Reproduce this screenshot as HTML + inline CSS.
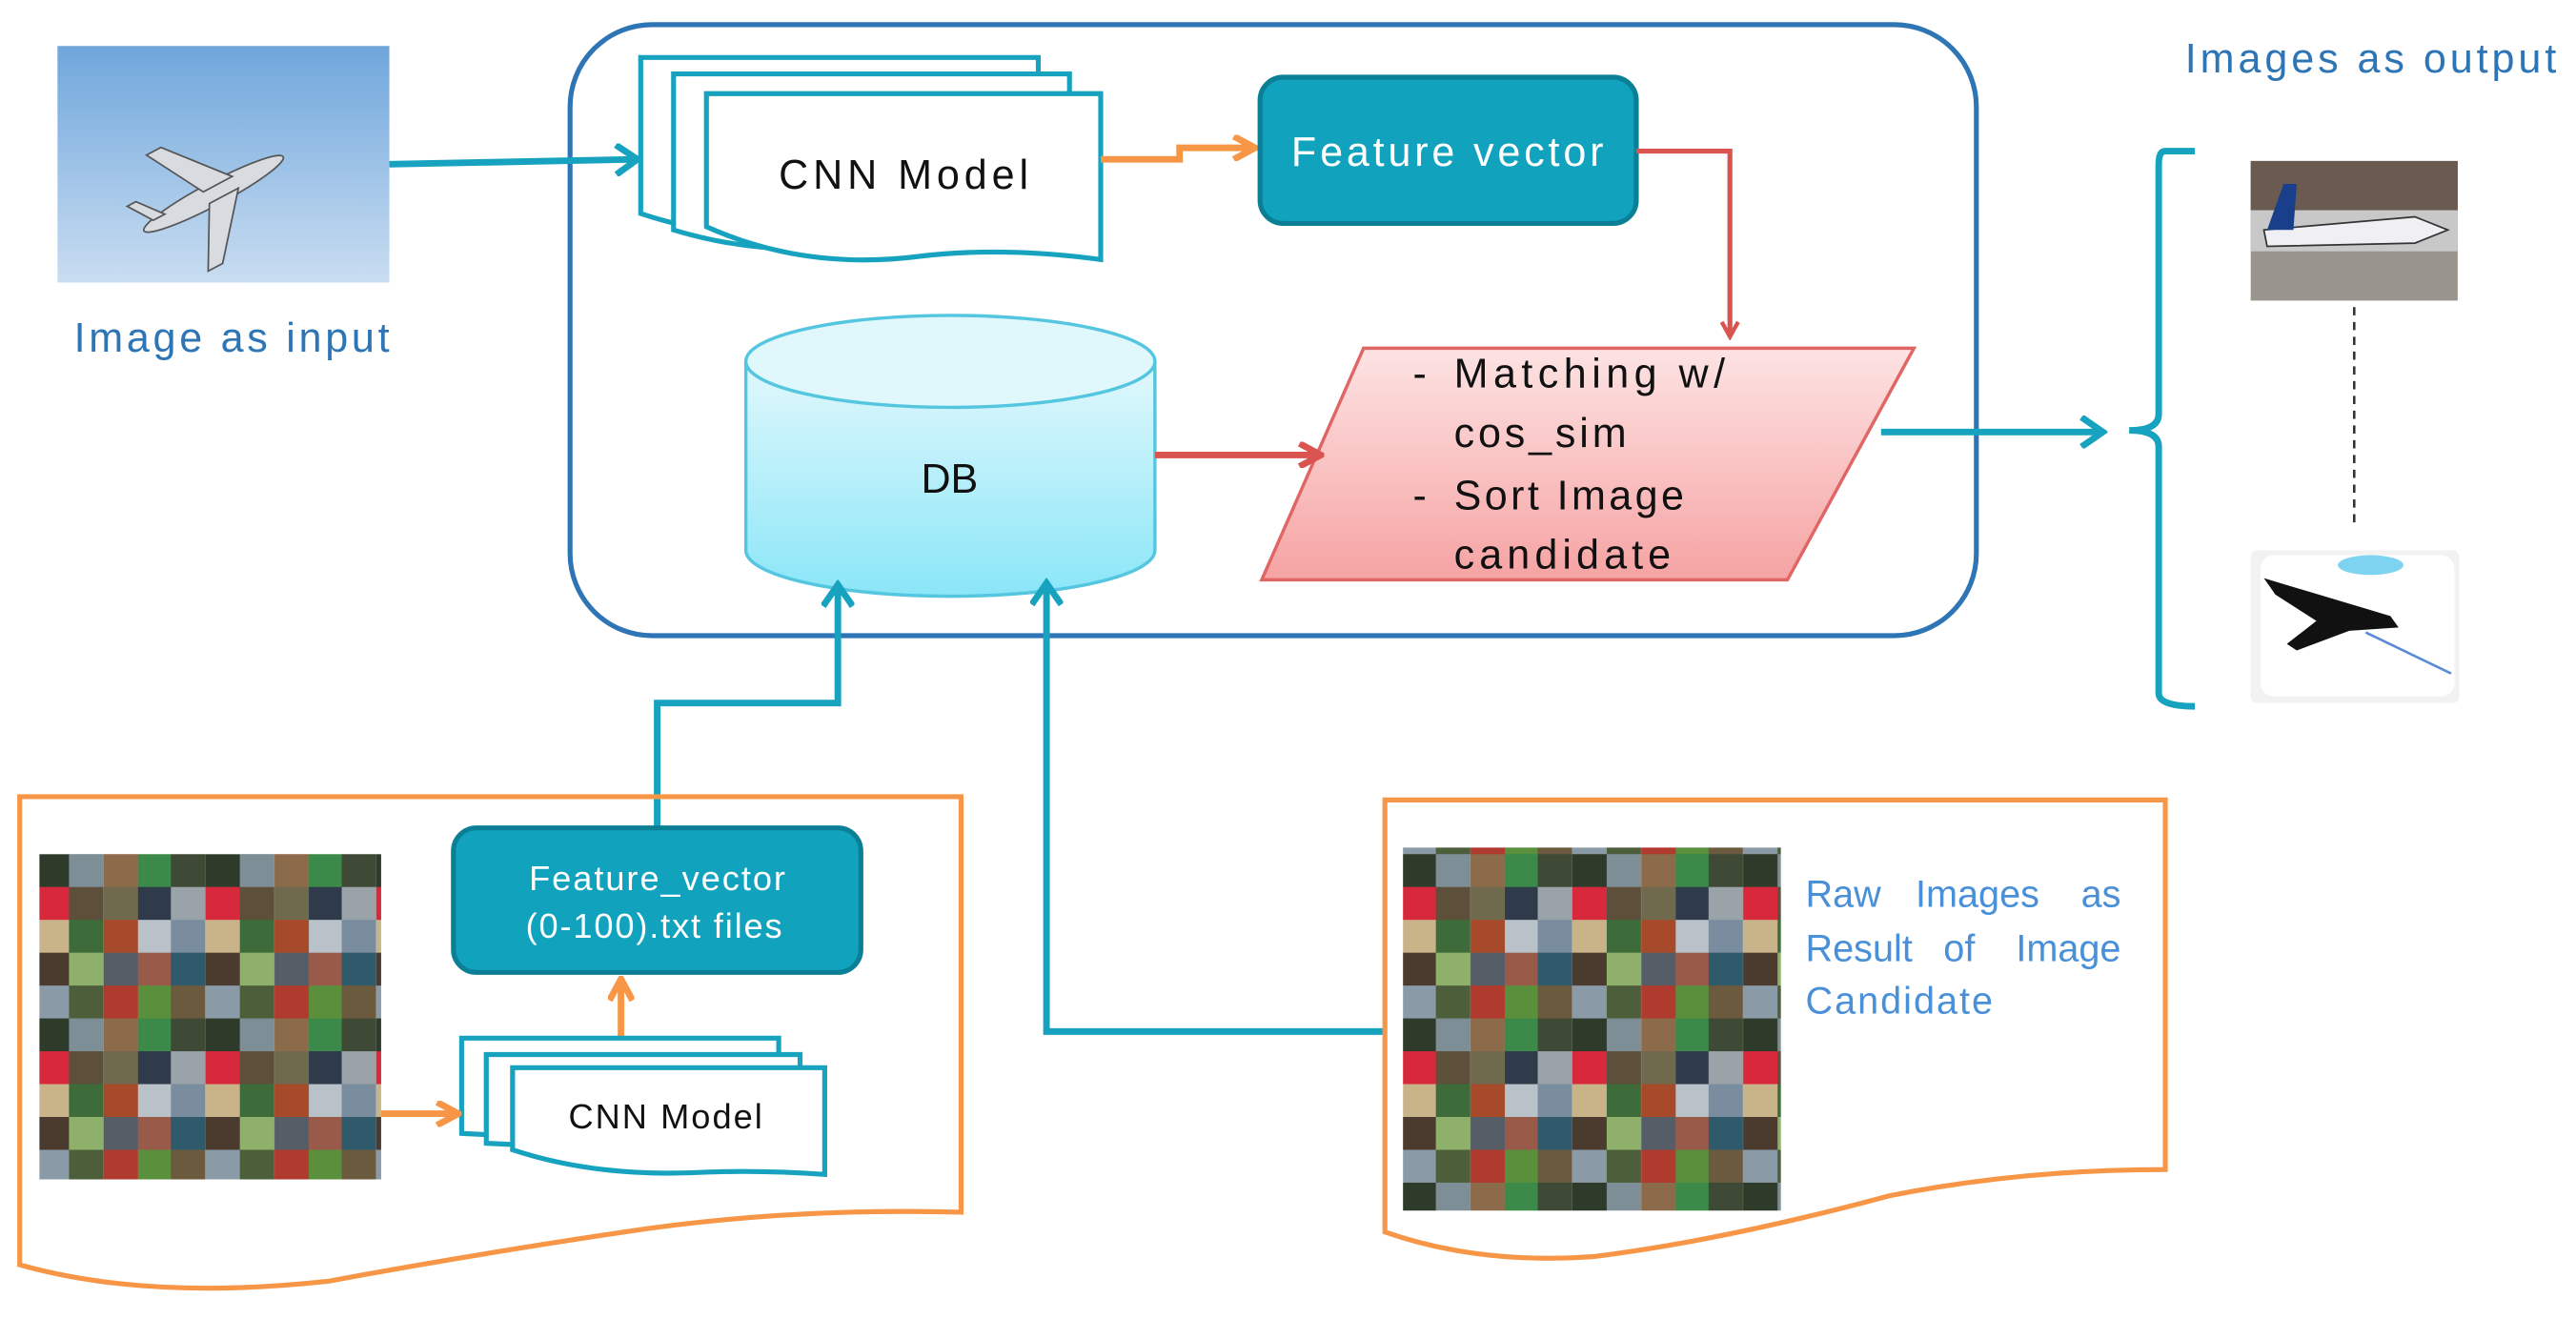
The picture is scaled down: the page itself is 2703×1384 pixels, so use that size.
<!DOCTYPE html>
<html><head><meta charset="utf-8"><style>
html,body{margin:0;padding:0;background:#fff;}
svg{display:block;}
text{font-family:"Liberation Sans",sans-serif;}
</style></head><body>
<svg width="2703" height="1384" viewBox="0 0 1568 803" preserveAspectRatio="none" xmlns="http://www.w3.org/2000/svg">
<defs>
<linearGradient id="sky" x1="0" y1="0" x2="0" y2="1"><stop offset="0" stop-color="#6fa6dc"/><stop offset="1" stop-color="#c9ddf1"/></linearGradient>
<linearGradient id="db" x1="0" y1="0" x2="0" y2="1"><stop offset="0" stop-color="#e2f8fc"/><stop offset="1" stop-color="#8ae6f8"/></linearGradient>
<linearGradient id="pk" x1="0" y1="0" x2="0" y2="1"><stop offset="0" stop-color="#fde3e3"/><stop offset="1" stop-color="#f6a3a3"/></linearGradient>
<pattern id="mos" patternUnits="userSpaceOnUse" width="104" height="100">
<rect x="0" y="0" width="21" height="20" fill="#6b5a3e"/><rect x="21" y="0" width="21" height="20" fill="#8a9aa6"/><rect x="42" y="0" width="21" height="20" fill="#4d5f3a"/><rect x="63" y="0" width="21" height="20" fill="#b03a2e"/><rect x="84" y="0" width="20" height="20" fill="#5a8f3c"/>
<rect x="0" y="20" width="21" height="20" fill="#3f4a36"/><rect x="21" y="20" width="21" height="20" fill="#2e3b2a"/><rect x="42" y="20" width="21" height="20" fill="#7e8e96"/><rect x="63" y="20" width="21" height="20" fill="#8b6b4a"/><rect x="84" y="20" width="20" height="20" fill="#3c8a4a"/>
<rect x="0" y="40" width="21" height="20" fill="#9aa3a8"/><rect x="21" y="40" width="21" height="20" fill="#d8283c"/><rect x="42" y="40" width="21" height="20" fill="#5d4f3a"/><rect x="63" y="40" width="21" height="20" fill="#6f6a4e"/><rect x="84" y="40" width="20" height="20" fill="#2f3a4a"/>
<rect x="0" y="60" width="21" height="20" fill="#7a8d9e"/><rect x="21" y="60" width="21" height="20" fill="#c9b48a"/><rect x="42" y="60" width="21" height="20" fill="#3e6b3a"/><rect x="63" y="60" width="21" height="20" fill="#a64a2a"/><rect x="84" y="60" width="20" height="20" fill="#b8c2c8"/>
<rect x="0" y="80" width="21" height="20" fill="#2f5a6b"/><rect x="21" y="80" width="21" height="20" fill="#4a3b2e"/><rect x="42" y="80" width="21" height="20" fill="#8fb06a"/><rect x="63" y="80" width="21" height="20" fill="#555e66"/><rect x="84" y="80" width="20" height="20" fill="#9a5a4a"/>
</pattern>
<marker id="aT" markerWidth="18" markerHeight="20" refX="15" refY="10" orient="auto" markerUnits="userSpaceOnUse"><path d="M2,1 L15,10 L2,19" fill="none" stroke="#17a3bf" stroke-width="4"/></marker>
<marker id="aO" markerWidth="16" markerHeight="16" refX="13" refY="8" orient="auto" markerUnits="userSpaceOnUse"><path d="M1,1 L14,8 L1,15" fill="none" stroke="#f79646" stroke-width="4"/></marker>
<marker id="aR" markerWidth="16" markerHeight="16" refX="13" refY="8" orient="auto" markerUnits="userSpaceOnUse"><path d="M1,1 L14,8 L1,15" fill="none" stroke="#d9534f" stroke-width="4"/></marker>
<marker id="aRs" markerWidth="12" markerHeight="12" refX="10" refY="6" orient="auto" markerUnits="userSpaceOnUse"><path d="M1,1 L10,6 L1,11" fill="none" stroke="#d9534f" stroke-width="2.5"/></marker>
</defs>

<rect x="35" y="28" width="202" height="144" fill="url(#sky)"/>
<g transform="translate(130,118) rotate(-28)" fill="#d8dbe0" stroke="#555" stroke-width="1">
<ellipse cx="0" cy="0" rx="48" ry="7"/>
<path d="M-5,-4 L-25,-40 L-15,-40 L15,-4 Z"/>
<path d="M-5,4 L-25,40 L-15,40 L15,4 Z"/>
<path d="M-40,-3 L-50,-18 L-44,-18 L-32,-3 Z"/>
</g>
<text x="45" y="214" font-size="25" fill="#2e75b6" textLength="192">Image as input</text>

<rect x="347" y="15" width="856" height="372" rx="50" fill="none" stroke="#2e75b6" stroke-width="3"/>

<path d="M237,100 L388,97" stroke="#17a3bf" stroke-width="4" fill="none" marker-end="url(#aT)"/>

<g stroke="#17a3bf" stroke-width="3" fill="#fff">
<path d="M390,35 L632,35 L632,140 Q560,128 510,140 Q450,150 390,130 Z"/>
<path d="M410,45 L651,45 L651,148 Q580,138 530,148 Q470,158 410,140 Z"/>
<path d="M430,57 L670,57 L670,158 Q610,150 560,156 Q490,165 430,138 Z"/>
</g>
<text x="550" y="115" font-size="25" text-anchor="middle" fill="#111" textLength="152">CNN Model</text>

<path d="M670,97 L718,97 L718,90 L763,90" stroke="#f79646" stroke-width="4" fill="none" marker-end="url(#aO)"/>

<rect x="767" y="47" width="229" height="89" rx="14" fill="#11a2bd" stroke="#0b7f95" stroke-width="3"/>
<text x="881" y="101" font-size="25" text-anchor="middle" fill="#fff" textLength="190">Feature vector</text>

<path d="M996,92 L1053,92 L1053,205" stroke="#d9534f" stroke-width="3" fill="none" marker-end="url(#aRs)"/>

<path d="M830,212 L1165,212 L1088,353 L768,353 Z" fill="url(#pk)" stroke="#e06666" stroke-width="2"/>
<g font-size="25" fill="#111">
<text x="860" y="236">-</text><text x="885" y="236" textLength="165">Matching w/</text>
<text x="885" y="272" textLength="105">cos_sim</text>
<text x="860" y="310">-</text><text x="885" y="310" textLength="140">Sort Image</text>
<text x="885" y="346" textLength="132">candidate</text>
</g>

<path d="M454,220 L454,335 A124.5,28 0 0 0 703,335 L703,220" fill="url(#db)" stroke="#55c6df" stroke-width="2"/>
<ellipse cx="578.5" cy="220" rx="124.5" ry="28" fill="#e0f8fc" stroke="#55c6df" stroke-width="2"/>
<text x="578" y="300" font-size="25" text-anchor="middle" fill="#111">DB</text>

<path d="M703,277 L803,277" stroke="#d9534f" stroke-width="4" fill="none" marker-end="url(#aR)"/>

<path d="M1145,263 L1280,263" stroke="#17a3bf" stroke-width="4" fill="none" marker-end="url(#aT)"/>

<path d="M1336,92 L1318,92 Q1314,92 1314,100 L1314,252 Q1314,262 1296,262 Q1314,262 1314,272 L1314,422 Q1314,430 1336,430" fill="none" stroke="#17a3bf" stroke-width="4"/>

<text x="1330" y="44" font-size="25" fill="#2e75b6" textLength="226">Images as output</text>

<rect x="1370" y="98" width="126" height="85" fill="#9a958c"/>
<rect x="1370" y="98" width="126" height="30" fill="#6a5a50"/>
<rect x="1370" y="128" width="126" height="25" fill="#c8c8c8"/>
<path d="M1378,140 L1470,132 L1490,140 L1470,148 L1380,150 Z" fill="#f0f0f4" stroke="#333" stroke-width="1"/>
<path d="M1380,140 L1390,112 L1398,112 L1396,140 Z" fill="#1a3f8a"/>
<line x1="1433" y1="187" x2="1433" y2="320" stroke="#333" stroke-width="1.5" stroke-dasharray="5,4"/>
<rect x="1370" y="335" width="127" height="93" fill="#f2f2f2" rx="4"/>
<rect x="1376" y="338" width="118" height="86" fill="#fff" rx="8"/>
<ellipse cx="1443" cy="344" rx="20" ry="6" fill="#7ed4f0"/>
<path d="M1378,352 L1455,375 L1460,382 L1430,384 L1398,396 L1392,392 L1410,378 L1385,362 Z" fill="#111"/>
<line x1="1440" y1="385" x2="1492" y2="410" stroke="#5a8ad8" stroke-width="1.5"/>

<path d="M400,503 L400,428 L510,428 L510,356" stroke="#17a3bf" stroke-width="4" fill="none" marker-end="url(#aT)"/>
<path d="M843,628 L637,628 L637,355" stroke="#17a3bf" stroke-width="4" fill="none" marker-end="url(#aT)"/>

<path d="M12,485 L585,485 L585,738 Q480,735 380,750 Q280,765 200,780 Q90,792 12,770 Z" fill="none" stroke="#f79646" stroke-width="3"/>
<rect x="24" y="520" width="208" height="198" fill="url(#mos)"/>
<rect x="276" y="504" width="248" height="88" rx="14" fill="#11a2bd" stroke="#0b7f95" stroke-width="3"/>
<text x="400" y="542" font-size="21" text-anchor="middle" fill="#fff" textLength="156">Feature_vector</text>
<text x="398" y="571" font-size="21" text-anchor="middle" fill="#fff" textLength="156">(0-100).txt files</text>
<path d="M378,631 L378,597" stroke="#f79646" stroke-width="4" fill="none" marker-end="url(#aO)"/>
<g stroke="#17a3bf" stroke-width="3" fill="#fff">
<path d="M281,632 L474,632 L474,700 L281,690 Z"/>
<path d="M296,642 L487,642 L487,705 L296,696 Z"/>
<path d="M312,650 L502,650 L502,715 Q460,712 420,714 Q360,716 312,700 Z"/>
</g>
<text x="405" y="687" font-size="21" text-anchor="middle" fill="#111" textLength="118">CNN Model</text>
<path d="M232,678 L278,678" stroke="#f79646" stroke-width="4" fill="none" marker-end="url(#aO)"/>

<path d="M843,487 L1318,487 L1318,712 Q1230,712 1150,728 Q1050,755 970,765 Q900,770 843,750 Z" fill="none" stroke="#f79646" stroke-width="3"/>
<rect x="854" y="516" width="230" height="221" fill="url(#mos)"/>
<g font-size="23" fill="#4a90d9">
<text x="1099" y="552">Raw</text><text x="1166" y="552">Images</text><text x="1291" y="552" text-anchor="end">as</text>
<text x="1099" y="585">Result</text><text x="1183" y="585">of</text><text x="1291" y="585" text-anchor="end">Image</text>
<text x="1099" y="617" textLength="114">Candidate</text>
</g>
</svg>
</body></html>
